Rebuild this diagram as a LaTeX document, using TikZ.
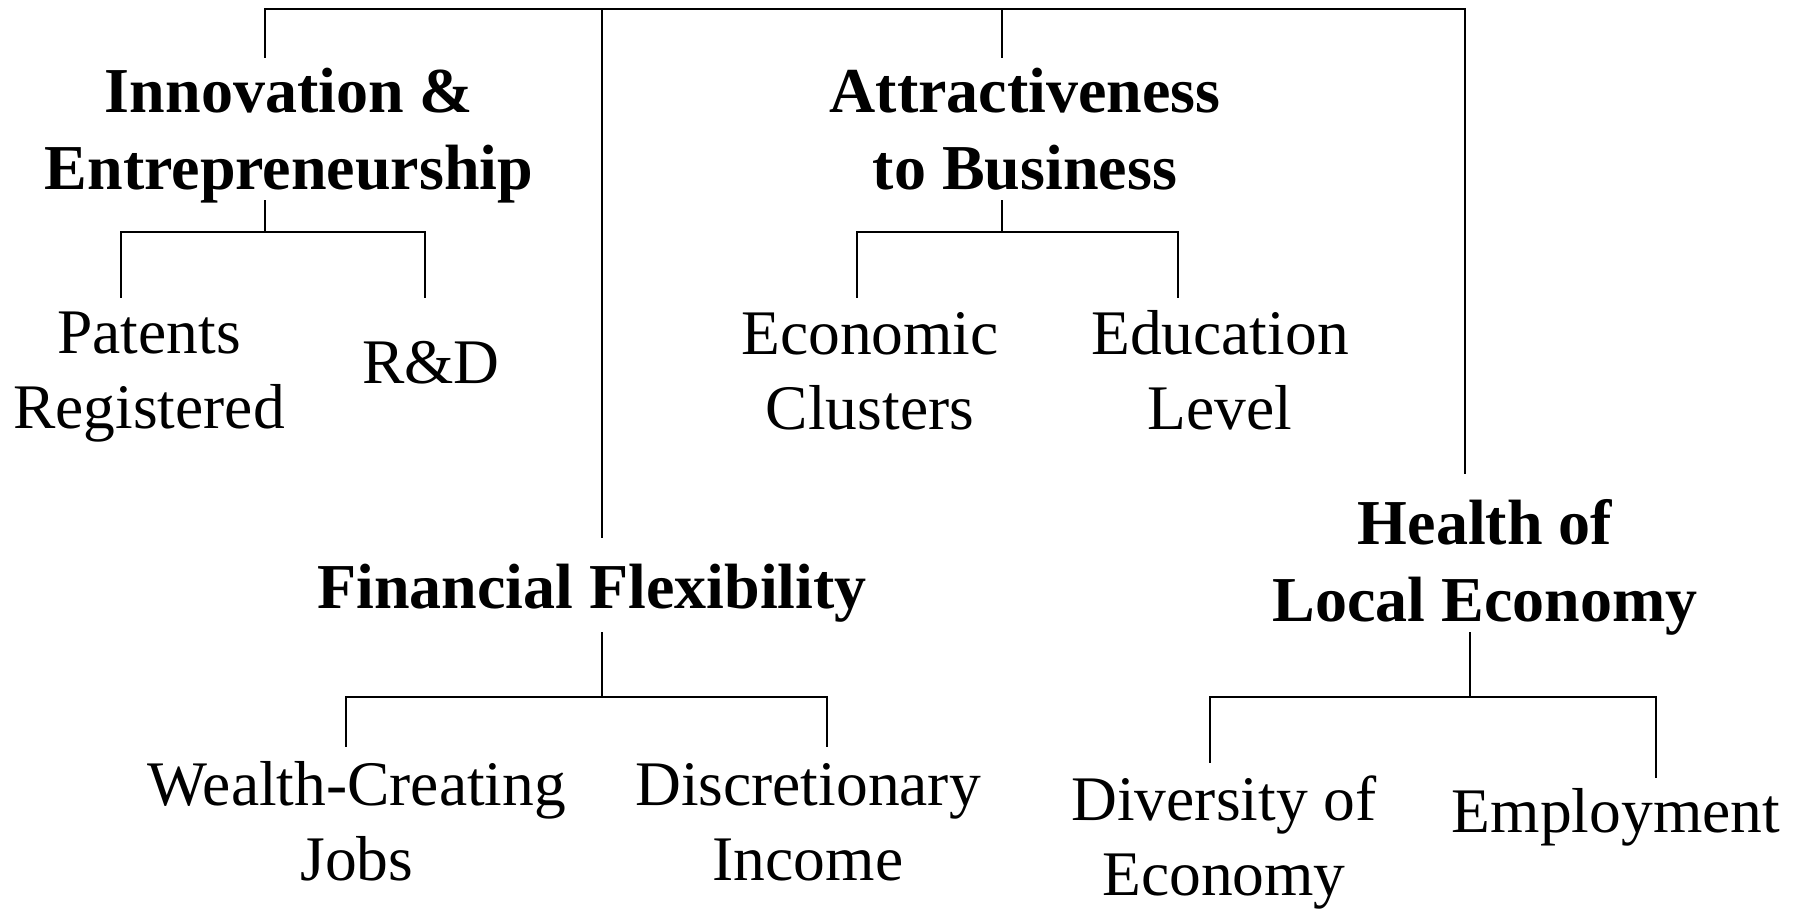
\documentclass[tikz,border=0pt]{standalone}
\usepackage{fontspec}
\setmainfont{Liberation Serif}
\begin{document}
\begin{tikzpicture}[x=1pt,y=-1pt,
  head/.style={font=\fontsize{64}{77}\selectfont\bfseries, align=center, inner sep=0pt, anchor=base},
  leaf/.style={font=\fontsize{63.5}{75}\selectfont, align=center, inner sep=0pt, anchor=base},
  link/.style={line width=1.8pt, line cap=rect}]
\useasboundingbox (0,0) rectangle (1802,909);
% nodes (base anchor = baseline of last line)
\node[head] (innov) at (289,190) {Innovation \&\\Entrepreneurship};
\node[head] (attr) at (1025,190) {Attractiveness\\to Business};
\node[head] (fin) at (592,608) {Financial Flexibility};
\node[head] (health) at (1485,621) {Health of\\Local Economy};
\node[leaf] (patents) at (149,428) {Patents\\Registered};
\node[leaf] (rd) at (431,383) {R\&D};
\node[leaf] (econ) at (870,429) {Economic\\Clusters};
\node[leaf] (edu) at (1220,429) {Education\\Level};
\node[leaf] (wealth) at (357,880) {Wealth-Creating\\Jobs};
\node[leaf] (disc) at (808,880) {Discretionary\\Income};
\node[leaf] (div) at (1224,895) {Diversity of\\Economy};
\node[leaf] (emp) at (1616,832) {Employment};
% junction coordinates
\coordinate (t1) at (265,9);
\coordinate (t2) at (602,9);
\coordinate (t3) at (1002,9);
\coordinate (t4) at (1465,9);
\coordinate (innovTop) at (265,57);
\coordinate (innovBot) at (265,201);
\coordinate (innovJ) at (265,232);
\coordinate (innovL) at (121,232);
\coordinate (innovR) at (425,232);
\coordinate (patentsTop) at (121,297);
\coordinate (rdTop) at (425,297);
\coordinate (finTop) at (602,537);
\coordinate (finBot) at (602,633);
\coordinate (finJ) at (602,697);
\coordinate (finL) at (346,697);
\coordinate (finR) at (827,697);
\coordinate (wealthTop) at (346,746);
\coordinate (discTop) at (827,746);
\coordinate (attrTop) at (1002,57);
\coordinate (attrBot) at (1002,201);
\coordinate (attrJ) at (1002,232);
\coordinate (attrL) at (857,232);
\coordinate (attrR) at (1178,232);
\coordinate (econTop) at (857,297);
\coordinate (eduTop) at (1178,297);
\coordinate (healthTop) at (1465,473);
\coordinate (healthBot) at (1470,633);
\coordinate (healthJ) at (1470,697);
\coordinate (healthL) at (1210,697);
\coordinate (healthR) at (1656,697);
\coordinate (divTop) at (1210,762);
\coordinate (empTop) at (1656,777);
% connectors
\draw[link] (t1) -- (t4);
\draw[link] (t1) -- (innovTop);
\draw[link] (t2) -- (finTop);
\draw[link] (t3) -- (attrTop);
\draw[link] (t4) -- (healthTop);
\draw[link] (innovBot) -- (innovJ);
\draw[link] (innovL) -- (innovR);
\draw[link] (innovL) -- (patentsTop);
\draw[link] (innovR) -- (rdTop);
\draw[link] (attrBot) -- (attrJ);
\draw[link] (attrL) -- (attrR);
\draw[link] (attrL) -- (econTop);
\draw[link] (attrR) -- (eduTop);
\draw[link] (finBot) -- (finJ);
\draw[link] (finL) -- (finR);
\draw[link] (finL) -- (wealthTop);
\draw[link] (finR) -- (discTop);
\draw[link] (healthBot) -- (healthJ);
\draw[link] (healthL) -- (healthR);
\draw[link] (healthL) -- (divTop);
\draw[link] (healthR) -- (empTop);
\end{tikzpicture}
\end{document}
